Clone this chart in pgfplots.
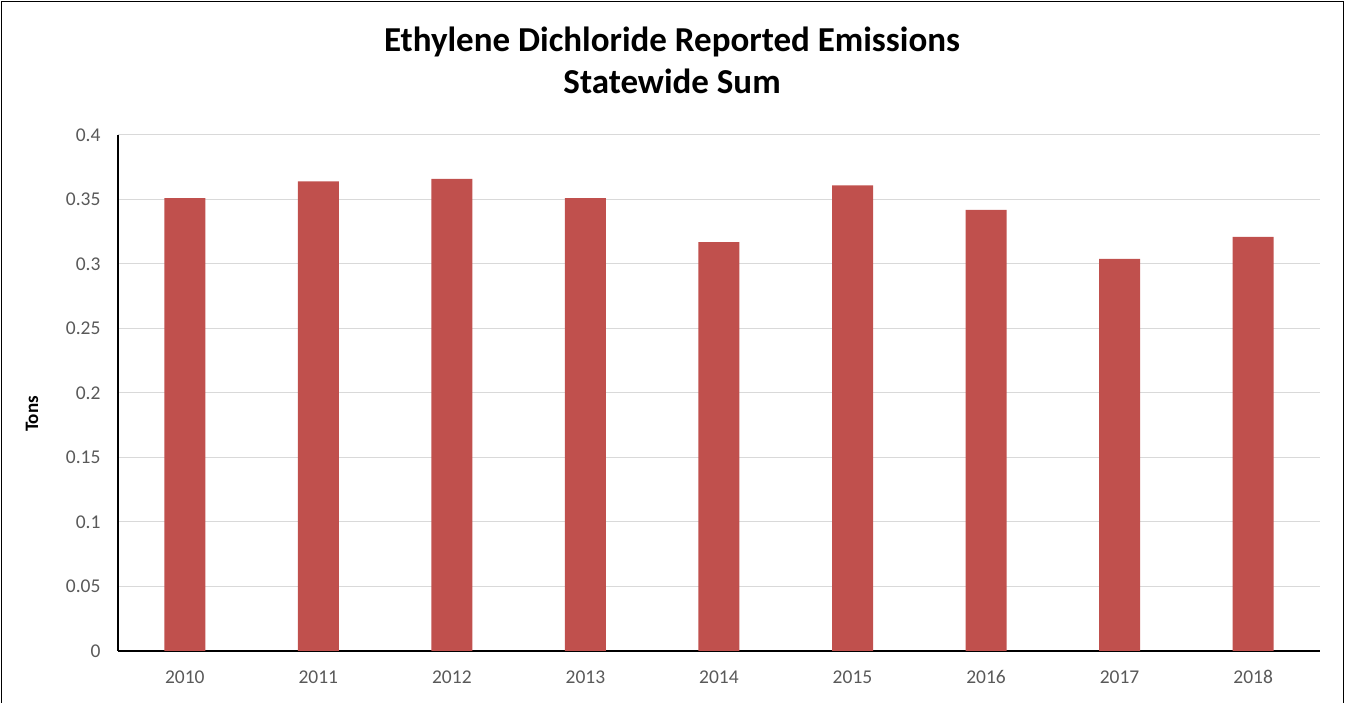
\documentclass[border=0pt]{standalone}
\usepackage{fontspec}
\setmainfont{Carlito}
\usepackage{pgfplots}
\pgfplotsset{compat=1.18}
\definecolor{barred}{HTML}{C0504D}
\definecolor{gridgray}{HTML}{D9D9D9}
\definecolor{ticktext}{HTML}{595959}
\begin{document}
\begin{tikzpicture}
\useasboundingbox (0,0) rectangle (1345pt,702pt);
\draw[black, line width=1.4pt] (1.5pt,-5pt) -- (1.5pt,700.5pt) -- (1343.5pt,700.5pt) -- (1343.5pt,-5pt);
\begin{axis}[
  at={(118pt,51pt)}, anchor=south west,
  scale only axis, width=1202pt, height=516pt,
  xmin=-0.5, xmax=8.5, ymin=0, ymax=0.4,
  ytick={0,0.05,...,0.4},
  yticklabels={0,0.05,0.1,0.15,0.2,0.25,0.3,0.35,0.4},
  xtick={0,...,8},
  xticklabels={2010,2011,2012,2013,2014,2015,2016,2017,2018},
  major tick length=0pt,
  ymajorgrids, grid style={gridgray, line width=1pt},
  axis x line*=bottom, axis y line*=left,
  axis line style={black, line width=2.5pt, -},
  every tick label/.append style={font=\fontsize{19.5}{20}\selectfont, text=ticktext},
  yticklabel style={anchor=east, xshift=-14pt},
  xticklabel style={anchor=center, yshift=-26pt},
  /pgf/number format/assume math mode=true,
  ylabel={\textbf{Tons}},
  every axis y label/.style={at={(-86pt,237pt)}, rotate=90, anchor=center, font=\fontsize{19}{19}\selectfont},
  title={Ethylene Dichloride Reported Emissions\\Statewide Sum},
  title style={at={(0.461,1)}, anchor=center, yshift=69pt, align=center, font=\fontsize{35}{42}\selectfont\bfseries},
  clip=false,
]
\addplot[ybar, bar width=41pt, fill=barred, draw=none] coordinates {
 (0,0.351) (1,0.364) (2,0.366) (3,0.351) (4,0.317)
 (5,0.361) (6,0.342) (7,0.304) (8,0.321)
};
\end{axis}
\end{tikzpicture}
\end{document}
